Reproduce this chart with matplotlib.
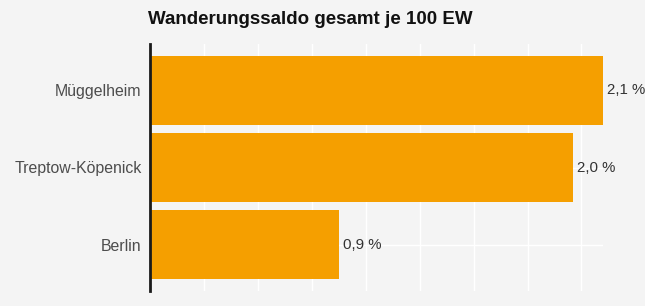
import matplotlib.pyplot as plt
import numpy as np

plt.rcParams['font.family'] = ['Liberation Sans', 'DejaVu Sans']

regions = ["Berlin", "Treptow-Köpenick", "Müggelheim"]
saldo = [0.875, 1.96, 2.10]
labels = ["0,9 %", "2,0 %", "2,1 %"]

bg = "#f4f4f4"
fig = plt.figure(figsize=(6.45, 3.06), dpi=100, facecolor=bg)
ax = fig.add_axes([150/645, 1 - 291/306, (603-150)/645, (291-44)/306])
ax.set_facecolor(bg)

ypos = np.arange(1, len(regions) + 1)
ax.barh(ypos, saldo, height=0.9, color="#f59f00", zorder=3)
for y, v, t in zip(ypos, saldo, labels):
    ax.text(v + 0.02, y, t, va="center", ha="left", fontsize=10.8,
            color="#333333", clip_on=False, zorder=4)

ax.set_xlim(0, 2.1)
ax.set_ylim(0.4, 3.6)
ax.set_xticks(np.arange(0, 2.01, 0.25))
ax.set_yticks(ypos)
ax.set_yticklabels(regions, fontsize=11.4, color="#4d4d4d")
ax.tick_params(axis="x", length=0, labelbottom=False)
ax.tick_params(axis="y", length=0, pad=6)
ax.grid(True, color="white", linewidth=1, zorder=0)
for s in ["top", "right", "bottom"]:
    ax.spines[s].set_visible(False)
ax.spines["left"].set_linewidth(2)
ax.spines["left"].set_color("#1a1a1a")
ax.spines["left"].set_zorder(5)

fig.text(148/645, 1 - 20/306, "Wanderungssaldo gesamt je 100 EW",
         fontsize=13.5, fontweight="bold", color="#111111", va="center", ha="left")

fig.savefig("out.png", dpi=100, facecolor=bg)
